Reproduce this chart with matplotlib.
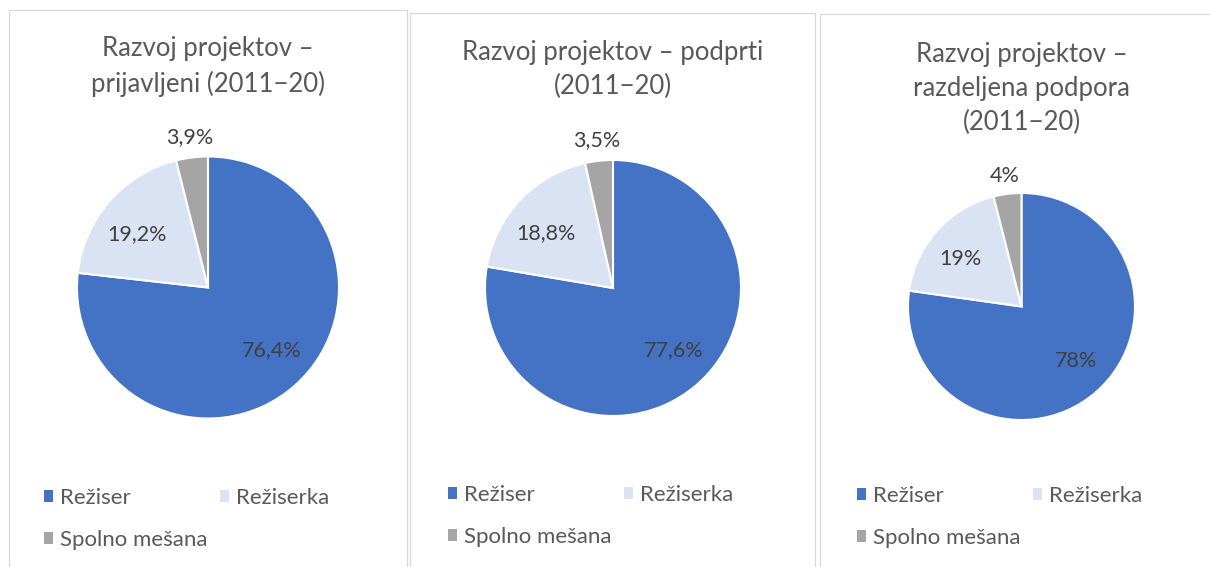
import matplotlib
matplotlib.use("Agg")
import matplotlib.pyplot as plt
from matplotlib.patches import Patch, Rectangle
import numpy as np

# data
categories = ["Režiser", "Režiserka", "Spolno mešana"]
titles = ["Razvoj projektov –\nprijavljeni (2011−20)",
          "Razvoj projektov – podprti\n(2011−20)",
          "Razvoj projektov –\nrazdeljena podpora\n(2011−20)"]
prijavljeni = [76.4, 19.2, 3.9]
podprti = [77.6, 18.8, 3.5]
razdeljena = [78, 19, 4]
label_fmt = ["{:.1f}%", "{:.1f}%", "{:.0f}%"]

colors = ["#4472C4", "#DAE3F3", "#A5A5A5"]
text_col = "#595959"
label_col = "#404040"
plt.rcParams['font.family'] = ['Lato', 'DejaVu Sans']

W, H = 1210, 567
fig = plt.figure(figsize=(W / 100, H / 100), dpi=100)


def fx(x):
    return x / W


def fy(y):
    return 1 - y / H


# panel frames (left, top, right)
frames = [(9, 10, 407), (410, 13, 815), (820, 14, 1215)]
for l, t, r in frames:
    fig.add_artist(Rectangle((fx(l), fy(H + 5)), fx(r - l), (H + 5 - t) / H,
                             transform=fig.transFigure, fill=False,
                             edgecolor="#d9d9d9", lw=0.9))

# pie centers / radii in pixels
pies = [(208, 287.5, 131), (613, 288, 128), (1021.5, 306.5, 113.5)]
title_y = [36, 40, 42]          # top of first title line
legend_pos = [(44, 519), (448, 516), (857, 517)]
label_dist = [0.68, 0.68, 1.16]
label_turn = [4, 4, 0]          # small angular nudge like Excel's best fit

for i, vals in enumerate([prijavljeni, podprti, razdeljena]):
    cx, cy, r = pies[i]
    ax = fig.add_axes([fx(cx - r), fy(cy + r), 2 * r / W, 2 * r / H])
    wedges, _ = ax.pie(vals, colors=colors, startangle=90, counterclock=False,
                       wedgeprops=dict(edgecolor="white", linewidth=1.5))
    ax.set_xlim(-1, 1)
    ax.set_ylim(-1, 1)
    for w, v, d, t in zip(wedges, vals, label_dist, label_turn):
        ang = np.deg2rad((w.theta1 + w.theta2) / 2 + t)
        txt = label_fmt[i].format(v).replace(".", ",")
        ax.text(d * np.cos(ang), d * np.sin(ang), txt, ha="center",
                va="center", fontsize=15.5, color=label_col)

    fig.text(fx(cx), fy(title_y[i]), titles[i], ha="center", va="top",
             fontsize=18.5, color=text_col, linespacing=1.45)

    handles = [Patch(facecolor=c, edgecolor="none") for c in colors]
    order = [0, 2, 1]
    lx, ly = legend_pos[i]
    fig.legend([handles[k] for k in order], [categories[k] for k in order],
               ncol=2, loc="center left", bbox_to_anchor=(fx(lx), fy(ly)),
               frameon=False, fontsize=16, labelcolor=text_col,
               handlelength=0.41, handleheight=0.41, handletextpad=0.32,
               labelspacing=1.0, columnspacing=0.55, borderpad=0,
               borderaxespad=0)

fig.savefig("out.png", dpi=100)
